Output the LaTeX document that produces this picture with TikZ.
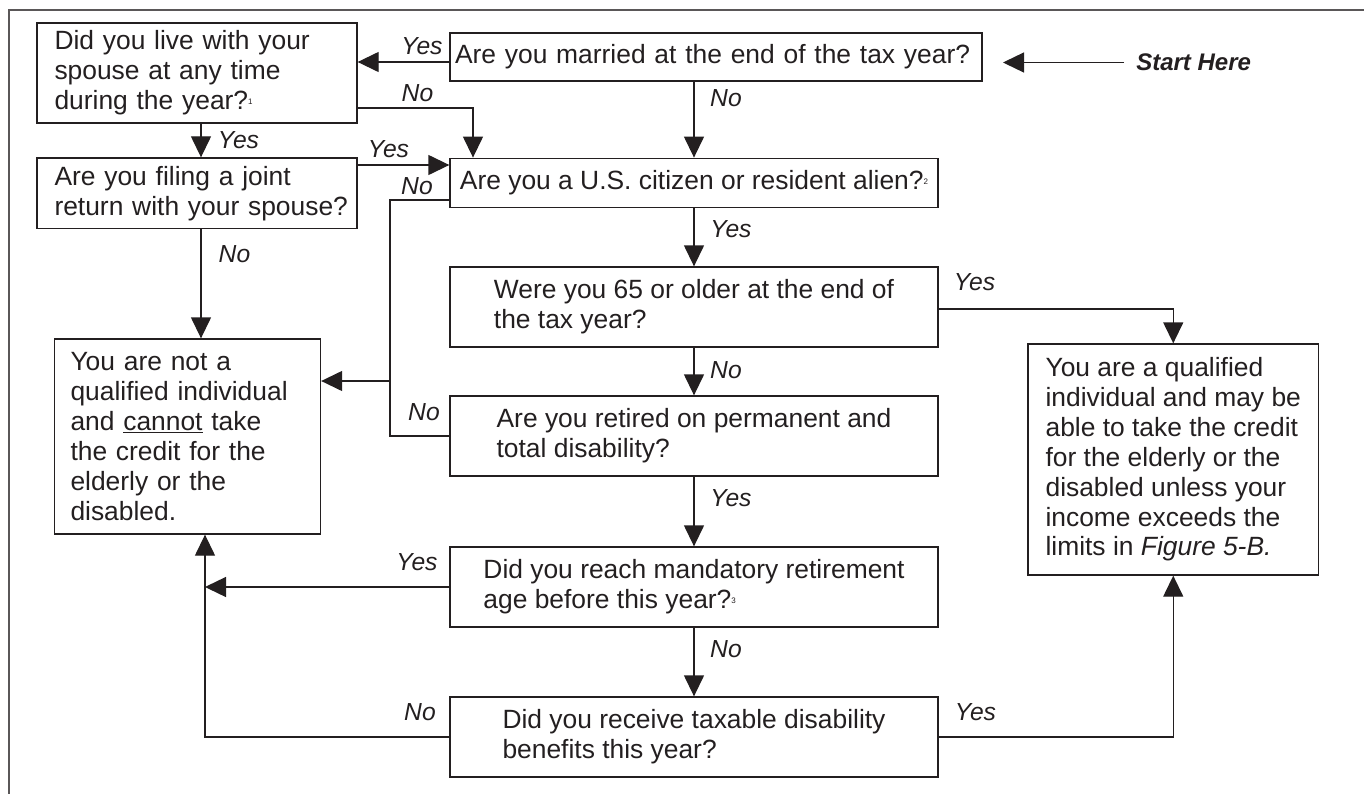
\documentclass[tikz,border=0pt]{standalone}
\usepackage{fontspec}
\setmainfont{Liberation Sans}
\usetikzlibrary{arrows.meta}
\definecolor{ink}{RGB}{35,31,32}
\newcommand\fnmk[1]{\raisebox{4pt}{\fontsize{6}{6}\selectfont #1}}
\begin{document}
\begin{tikzpicture}[x=0.75pt,y=-0.75pt,
  box/.style={draw=ink, line width=1pt, align=left, inner sep=0pt, text=ink, font=\fontsize{19.8}{22.4}\selectfont},
  lab/.style={inner sep=0pt, text=ink, font=\fontsize{18.5}{20}\selectfont\itshape},
  arr/.style={draw=ink, line width=1pt, -{Triangle[length=15.75pt,width=15pt]}},
  con/.style={draw=ink, line width=1pt},
  frame/.style={draw=ink!75, line width=1.5pt}]
\useasboundingbox (0,0) rectangle (1364,793);
\draw[frame] (9,800) -- (9,10) -- (1370,10);

% boxes
\node[box, minimum width=240pt, minimum height=75pt, text width=213.75pt, inner xsep=13.125pt] (a) at (197,73)
  {Did you live with your\\spouse at any time\\during the year?\fnmk{1}};
\node[box, minimum width=399pt, minimum height=36pt, text width=391.5pt, inner xsep=3.75pt] (m) at (716,57)
  {\mbox{Are you married at the end of the tax year?}};
\node[box, minimum width=240pt, minimum height=52.9pt, text width=213.75pt, inner xsep=13.125pt] (j) at (197,193.25)
  {\mbox{Are you filing a joint}\\\mbox{return with your spouse?}};
\node[box, minimum width=366pt, minimum height=36.75pt] (u) at (694,182.75)
  {Are you a U.S. citizen or resident alien?\fnmk{2}};
\node[box, minimum width=366pt, minimum height=60pt] (w) at (694,307)
  {Were you 65 or older at the end of\\the tax year?};
\node[box, minimum width=199.5pt, minimum height=146.25pt, text width=175.5pt, inner xsep=12pt] (n) at (187.5,436.5)
  {You are not a\\qualified individual\\and \underline{cannot} take\\the credit for the\\elderly or the\\disabled.};
\node[box, minimum width=366pt, minimum height=60pt] (p) at (694,436)
  {Are you retired on permanent and\\total disability?};
\node[box, minimum width=366pt, minimum height=60pt] (r) at (694,587)
  {Did you reach mandatory retirement\\age before this year?\fnmk{3}};
\node[box, minimum width=366pt, minimum height=60pt] (b) at (694,737)
  {Did you receive taxable disability\\benefits this year?};
\node[box, minimum width=217.9pt, minimum height=173.25pt] (q) at (1173.25,459.5)
  {You are a qualified\\individual and may be\\able to take the credit\\for the elderly or the\\disabled unless your\\income exceeds the\\limits in \textit{Figure 5-B.}};

% start
\node[inner sep=0pt, text=ink, font=\fontsize{18}{20}\selectfont\bfseries\itshape, anchor=west] (sh) at (1136,62.5) {Start Here};
\draw[arr] ([xshift=-9pt]sh.west) -- ++(-121,0);

% connectors
\draw[arr] (m.west |- 0,62) -- (a.east |- 0,62);
\draw[arr] (a.east |- 0,108) -| (u.north -| 473,0);
\draw[arr] (m.south -| u.north) -- (u.north);
\draw[arr] (a.south -| 201,0) -- (j.north -| 201,0);
\draw[arr] (j.east |- 0,165) -- (u.west |- 0,165);
\coordinate (jn) at (390,381);
\draw[con] (u.west |- 0,200) -| (jn);
\draw[con] (p.west) -| (jn);
\draw[arr] (jn) -- (n.east |- jn);
\draw[arr] (j.south -| 201,0) -- (n.north -| 201,0);
\draw[arr] (u.south) -- (w.north);
\draw[arr] (w.east |- 0,309) -| (q.north);
\draw[arr] (w.south) -- (p.north);
\draw[arr] (p.south) -- (r.north);
\draw[arr] (r.south) -- (b.north);
\draw[arr] (r.west) -- (r.west -| 205,0);
\draw[arr] (b.west) -| (n.south -| 205,0);
\draw[arr] (b.east) -| (q.south);

% labels
\node[lab] (ly1) at (422,46) {Yes};
\node[lab] (ln1) at (417.5,93.5) {No};
\node[lab] (ln2) at (726,98.5) {No};
\node[lab] (ly2) at (238.5,140) {Yes};
\node[lab] (ly3) at (388.5,149) {Yes};
\node[lab] (ln3) at (417,186) {No};
\node[lab] (ly4) at (731,229) {Yes};
\node[lab] (ln4) at (234.5,254) {No};
\node[lab] (ly5) at (974.5,282.5) {Yes};
\node[lab] (ln5) at (726,370.5) {No};
\node[lab] (ln6) at (424,412.5) {No};
\node[lab] (ly6) at (731,498) {Yes};
\node[lab] (ly7) at (417,562) {Yes};
\node[lab] (ln7) at (726,649) {No};
\node[lab] (ln8) at (420,712.5) {No};
\node[lab] (ly8) at (975.5,712.5) {Yes};
\end{tikzpicture}
\end{document}
